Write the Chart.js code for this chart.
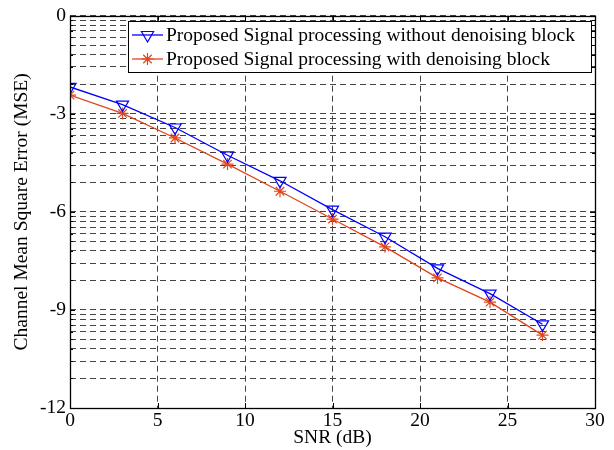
<!DOCTYPE html>
<html>
<head>
<meta charset="utf-8">
<script src="https://cdn.jsdelivr.net/npm/chart.js@4.4.1/dist/chart.umd.min.js"></script>
<style>
    html, body { margin: 0; padding: 0; background: #fff; }
</style>
</head>
<body>
<canvas id="grafico" width="614" height="450"></canvas>
<script>
// Datos
const snr = [0, 3, 6, 9, 12, 15, 18, 21, 24, 27];
const mseSinDenoising = [-2.18, -2.72, -3.42, -4.27, -5.05, -5.93, -6.76, -7.73, -8.50, -9.44];
const mseConDenoising = [-2.43, -2.99, -3.74, -4.54, -5.37, -6.22, -7.07, -8.02, -8.76, -9.77];
const ticksX = [0, 5, 10, 15, 20, 25, 30];
const ticksY = [0, -3, -6, -9, -12];
const etiquetas = [
    "Proposed Signal processing without denoising block",
    "Proposed Signal processing with denoising block",
];

const fuente = { family: "'Liberation Serif', 'Times New Roman', serif", size: 19.5 };

// Lineas de rejilla menores con espaciado logaritmico dentro de cada intervalo
function ticksMenores() {
    const valores = [];
    for (let i = 0; i < ticksY.length - 1; i++) {
        const abajo = ticksY[i + 1];
        const paso = ticksY[i] - ticksY[i + 1];
        valores.push(ticksY[i]);
        for (let k = 9; k >= 2; k--) {
            valores.push(abajo + paso * Math.log10(k));
        }
    }
    valores.push(ticksY[ticksY.length - 1]);
    return valores;
}

const esMayor = (v) => ticksY.some((t) => Math.abs(t - v) < 1e-6);

// Marco de los ejes y marcas interiores al estilo MATLAB
const marcoPlugin = {
    id: "marco",
    afterDraw(chart) {
        const { ctx, chartArea: a, scales } = chart;
        ctx.save();
        ctx.strokeStyle = "#000";
        ctx.lineWidth = 1;
        ctx.beginPath();
        scales.x.ticks.forEach((t) => {
            const px = Math.round(scales.x.getPixelForValue(t.value)) + 0.5;
            ctx.moveTo(px, a.bottom); ctx.lineTo(px, a.bottom - 5);
            ctx.moveTo(px, a.top); ctx.lineTo(px, a.top + 5);
        });
        scales.y.ticks.forEach((t) => {
            const py = Math.round(scales.y.getPixelForValue(t.value)) + 0.5;
            const largo = esMayor(t.value) ? 5 : 3;
            ctx.moveTo(a.left, py); ctx.lineTo(a.left + largo, py);
            ctx.moveTo(a.right, py); ctx.lineTo(a.right - largo, py);
        });
        ctx.stroke();
        ctx.lineWidth = 1.3;
        ctx.strokeRect(Math.round(a.left) + 0.5, Math.round(a.top) + 0.5,
            Math.round(a.right - a.left), Math.round(a.bottom - a.top));
        ctx.restore();
    },
};

// Leyenda dentro del area del grafico
const leyendaPlugin = {
    id: "leyendaInterior",
    afterDraw(chart) {
        const { ctx } = chart;
        const caja = { x: 128.5, y: 21.5, w: 463, h: 51 };
        ctx.save();
        ctx.fillStyle = "#fff";
        ctx.fillRect(caja.x, caja.y, caja.w, caja.h);
        ctx.strokeStyle = "#000";
        ctx.lineWidth = 1;
        ctx.strokeRect(caja.x, caja.y, caja.w, caja.h);
        chart.data.datasets.forEach((ds, i) => {
            const y = 35 + i * 24;
            ctx.strokeStyle = ds.borderColor;
            ctx.lineWidth = ds.borderWidth;
            ctx.beginPath();
            ctx.moveTo(132, y);
            ctx.lineTo(163, y);
            ctx.stroke();
            ctx.fillStyle = "rgba(0,0,0,0)";
            ctx.lineWidth = ds.pointBorderWidth;
            Chart.helpers.drawPoint(ctx, {
                pointStyle: ds.pointStyle,
                rotation: ds.pointRotation || 0,
                radius: ds.pointRadius,
                borderWidth: ds.pointBorderWidth,
            }, 147.5, y);
            ctx.fillStyle = "#000";
            ctx.font = `${fuente.size}px ${fuente.family}`;
            ctx.textBaseline = "middle";
            ctx.fillText(ds.label, 166, y + 1);
        });
        ctx.restore();
    },
};

const ctx = document.getElementById("grafico").getContext("2d");
const grafico = new Chart(ctx, {
    type: "line",
    data: {
        labels: snr,
        datasets: [
            {
                label: etiquetas[0],
                data: snr.map((x, i) => ({ x, y: mseSinDenoising[i] })),
                borderColor: "#0000ff",
                borderWidth: 1.3,
                pointStyle: "triangle",
                pointRotation: 180,
                pointRadius: 7,
                pointBorderWidth: 1.2,
                pointBackgroundColor: "rgba(0,0,0,0)",
                pointBorderColor: "#0000ff",
                tension: 0,
            },
            {
                label: etiquetas[1],
                data: snr.map((x, i) => ({ x, y: mseConDenoising[i] })),
                borderColor: "#e0461d",
                borderWidth: 1.3,
                pointStyle: "star",
                pointRadius: 6,
                pointBorderWidth: 1.2,
                pointBackgroundColor: "rgba(0,0,0,0)",
                pointBorderColor: "#e0461d",
                tension: 0,
            },
        ],
    },
    options: {
        responsive: false,
        animation: false,
        devicePixelRatio: 1,
        layout: { padding: { top: 15.5, right: 19, left: 0, bottom: 0 } },
        plugins: {
            legend: { display: false },
            tooltip: { enabled: false },
        },
        scales: {
            x: {
                type: "linear",
                min: 0,
                max: 30,
                afterBuildTicks: (s) => { s.ticks = ticksX.map((v) => ({ value: v })); },
                afterFit: (s) => { s.height = 42; },
                grid: { color: "#444", lineWidth: 1, drawTicks: false },
                border: { display: false, dash: [6, 4] },
                ticks: { color: "#000", font: fuente, padding: 1, maxRotation: 0, autoSkip: false },
                title: { display: true, text: "SNR (dB)", color: "#000", font: fuente, padding: { top: 0, bottom: 0 } },
            },
            y: {
                type: "linear",
                min: -12,
                max: 0,
                afterBuildTicks: (s) => { s.ticks = ticksMenores().map((v) => ({ value: v })); },
                afterFit: (s) => { s.width = 70; },
                grid: { color: "#444", lineWidth: 1, drawTicks: false },
                border: { display: false, dash: [6, 4] },
                ticks: {
                    color: "#000",
                    font: fuente,
                    padding: 4,
                    autoSkip: false,
                    callback: (v) => (esMayor(v) ? String(Math.round(v)) : ""),
                },
                title: { display: true, text: "Channel Mean Square Error (MSE)", color: "#000", font: fuente, padding: { top: 10, bottom: 0 } },
            },
        },
    },
    plugins: [marcoPlugin, leyendaPlugin],
});
</script>
</body>
</html>
